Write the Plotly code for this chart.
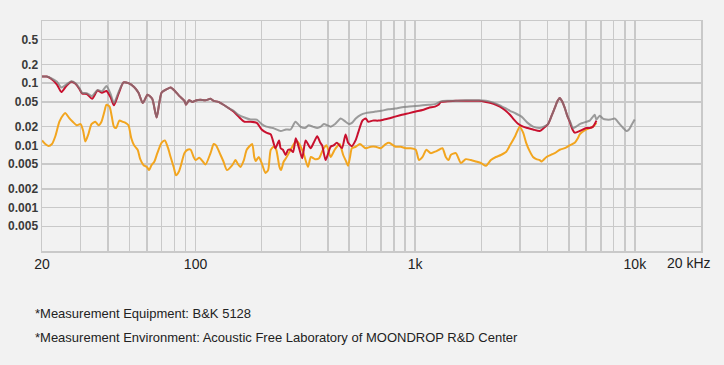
import plotly.graph_objects as go

# ---- data (Hz, ratio) ----
grey_f = [20, 21, 22, 23.4, 24.5, 25.8, 27.2, 28.4, 29.5, 30.5, 32, 33.8, 35.8, 37.5, 39.3, 41, 42.5, 44.5, 47, 49.5,
          52.5, 55, 57.5, 60.5, 63.5, 66.5, 70, 74, 77, 80.5, 84.5, 89, 90.5, 93.5, 97, 101, 105, 111, 117, 121,
          127, 134, 141, 149, 157, 167, 178, 190, 200, 210, 225, 244, 258, 271, 285, 300, 315, 327, 342, 358,
          372, 384, 398, 412, 432, 458, 482, 500, 515, 536, 565, 595, 630, 661, 700, 755, 810, 870, 940, 1006,
          1080, 1150, 1230, 1308, 1400, 1531, 1700, 1950, 2100, 2211, 2330, 2430, 2558, 2700, 2850, 3048, 3250,
          3440, 3690, 3850, 4026, 4180, 4318, 4450, 4550, 4650, 4796, 4920, 5052, 5230, 5400, 5610, 5800, 6018,
          6230, 6450, 6564, 6682, 6916, 7150, 7420, 7750, 8092, 8530, 8850, 9150, 9400, 9640, 9978]
grey_v = [0.128, 0.128, 0.12, 0.105, 0.085, 0.095, 0.107, 0.1, 0.085, 0.07, 0.069, 0.062, 0.078, 0.074, 0.09, 0.068,
          0.048, 0.07, 0.103, 0.1, 0.087, 0.07, 0.048, 0.065, 0.056, 0.028, 0.07, 0.08, 0.085, 0.075, 0.062, 0.052,
          0.045, 0.053, 0.05, 0.053, 0.054, 0.053, 0.056, 0.052, 0.05, 0.045, 0.04, 0.036, 0.031, 0.028, 0.026,
          0.026, 0.022, 0.02, 0.019, 0.017, 0.018, 0.018, 0.024, 0.02, 0.019, 0.021, 0.02, 0.019, 0.02, 0.022,
          0.021, 0.02, 0.022, 0.027, 0.024, 0.022, 0.023, 0.027, 0.031, 0.033, 0.034, 0.035, 0.036, 0.038, 0.039,
          0.041, 0.042, 0.043, 0.044, 0.045, 0.046, 0.051, 0.052, 0.052, 0.053, 0.053, 0.052, 0.05, 0.047, 0.044,
          0.04, 0.036, 0.033, 0.029, 0.023, 0.02, 0.019, 0.02, 0.022, 0.03, 0.04, 0.052, 0.058, 0.052, 0.04, 0.03,
          0.025, 0.019, 0.02, 0.022, 0.023, 0.024, 0.025, 0.029, 0.031, 0.026, 0.03, 0.027, 0.026, 0.026, 0.027,
          0.022, 0.019, 0.017, 0.018, 0.021, 0.026]

red_f = [20, 21, 22, 23.4, 24.5, 25.8, 27.2, 28.4, 29.5, 30.5, 32, 33.8, 35.8, 37.5, 39.3, 41, 42.5, 44.5, 47, 49.5,
         52.5, 55, 57.5, 60.5, 63.5, 66.5, 70, 74, 77, 80.5, 84.5, 89, 90.5, 93.5, 97, 101, 105, 111, 117, 121,
         127, 134, 141, 149, 157, 167, 178, 190, 200, 210, 220, 231, 240, 244, 250, 257, 264, 271, 278, 286, 296,
         306, 317, 334, 345, 358, 370, 377, 391, 412, 425, 440, 464, 482, 495, 515, 535, 550, 575, 595, 611, 640,
         680, 720, 755, 810, 870, 940, 1006, 1080, 1150, 1230, 1276, 1308, 1400, 1531, 1700, 1950, 2100, 2211,
         2330, 2430, 2558, 2700, 2790, 2950, 3098, 3250, 3440, 3690, 3850, 4026, 4180, 4318, 4450, 4550, 4650,
         4796, 4920, 5052, 5200, 5324, 5610, 6018, 6230, 6450, 6564, 6682]
red_v = [0.128, 0.128, 0.118, 0.095, 0.072, 0.09, 0.105, 0.098, 0.082, 0.068, 0.067, 0.056, 0.076, 0.07, 0.075, 0.06,
         0.044, 0.066, 0.103, 0.1, 0.087, 0.07, 0.048, 0.065, 0.056, 0.028, 0.07, 0.08, 0.085, 0.075, 0.062, 0.052,
         0.045, 0.053, 0.05, 0.053, 0.054, 0.053, 0.056, 0.052, 0.05, 0.045, 0.04, 0.035, 0.029, 0.024, 0.024,
         0.023, 0.018, 0.016, 0.015, 0.009, 0.012, 0.009, 0.0085, 0.007, 0.0085, 0.0085, 0.0078, 0.013, 0.009,
         0.0062, 0.012, 0.009, 0.011, 0.014, 0.011, 0.01, 0.0058, 0.0095, 0.01, 0.011, 0.009, 0.015, 0.011, 0.0097,
         0.012, 0.016, 0.025, 0.027, 0.024, 0.025, 0.025, 0.026, 0.027, 0.029, 0.031, 0.033, 0.035, 0.037, 0.04,
         0.042, 0.045, 0.05, 0.051, 0.052, 0.052, 0.052, 0.05, 0.048, 0.045, 0.042, 0.037, 0.031, 0.027, 0.022,
         0.02, 0.019, 0.018, 0.017, 0.019, 0.022, 0.03, 0.04, 0.052, 0.058, 0.052, 0.04, 0.03, 0.024, 0.018, 0.016,
         0.017, 0.019, 0.019, 0.02, 0.022, 0.025]

orange_f = [20, 20.7, 21.4, 22.2, 23, 24, 25, 25.6, 26.5, 27.6, 28.8, 30, 30.8, 31.5, 32.5, 33.6, 35, 36.2, 37.3,
            38.4, 39.3, 40.6, 41.5, 42.5, 43.5, 45, 46.5, 48, 49.5, 51, 52.5, 54.5, 56, 58, 60, 61.5, 63, 65, 67,
            70, 72.5, 75, 77, 79.5, 81.5, 84, 86, 89, 92, 95, 98, 100, 104, 108, 111, 117, 121, 124, 130, 134, 139,
            147, 152, 156, 160, 166, 171, 181, 185, 188, 194, 200, 208, 214, 220, 227, 233, 241, 245, 252, 258,
            271, 283, 291, 301, 310, 325, 335, 350, 365, 380, 395, 412, 430, 440, 453, 470, 485, 495, 505, 515, 536,
            560, 595, 627, 661, 696, 734, 760, 815, 860, 906, 954, 1006, 1040, 1080, 1124, 1177, 1241, 1330, 1378,
            1420, 1452, 1531, 1614, 1700, 1792, 1889, 1991, 2100, 2211, 2330, 2455, 2588, 2700, 2850, 2990, 3100,
            3200, 3324, 3440, 3560, 3690, 3756, 3960, 4200, 4318, 4550, 4796, 5052, 5324, 5500, 5610, 6018, 6230,
            6450, 6682]
orange_v = [0.012, 0.0105, 0.0098, 0.0105, 0.014, 0.024, 0.031, 0.033, 0.028, 0.024, 0.021, 0.022, 0.017, 0.0115,
            0.015, 0.022, 0.024, 0.021, 0.024, 0.034, 0.045, 0.042, 0.03, 0.02, 0.019, 0.025, 0.024, 0.023, 0.021,
            0.013, 0.01, 0.0085, 0.006, 0.0048, 0.0045, 0.004, 0.0048, 0.0055, 0.0075, 0.011, 0.012, 0.009, 0.0065,
            0.0045, 0.0033, 0.0038, 0.0049, 0.0075, 0.0085, 0.0085, 0.0065, 0.0058, 0.0063, 0.0055, 0.0049, 0.0075,
            0.0105, 0.01, 0.007, 0.0055, 0.004, 0.0048, 0.0058, 0.005, 0.0045, 0.0058, 0.0085, 0.0105, 0.0065,
            0.0056, 0.0065, 0.0052, 0.0036, 0.004, 0.0085, 0.0095, 0.0085, 0.0045, 0.004, 0.0055, 0.0062, 0.0085,
            0.011, 0.0115, 0.0095, 0.0075, 0.0045, 0.0065, 0.006, 0.0062, 0.0085, 0.01, 0.0065, 0.0085, 0.0095,
            0.0105, 0.007, 0.0055, 0.0047, 0.0065, 0.009, 0.0095, 0.0105, 0.009, 0.0095, 0.0095, 0.009, 0.0105,
            0.011, 0.0095, 0.0095, 0.009, 0.009, 0.0085, 0.0058, 0.0065, 0.0085, 0.0075, 0.008, 0.009, 0.0065,
            0.0058, 0.007, 0.0075, 0.0052, 0.006, 0.0058, 0.0055, 0.0052, 0.0047, 0.0058, 0.0065, 0.007, 0.0078,
            0.01, 0.014, 0.02, 0.016, 0.011, 0.008, 0.0065, 0.006, 0.0058, 0.0055, 0.0065, 0.0072, 0.0075, 0.0085,
            0.009, 0.01, 0.011, 0.013, 0.015, 0.018, 0.019, 0.02, 0.023]

# ---- axes ticks ----
x_grid = [20, 30, 40, 50, 60, 70, 80, 90, 100, 200, 300, 400, 500, 600, 700, 800, 900,
          1000, 2000, 3000, 4000, 5000, 6000, 7000, 8000, 9000, 10000, 20000]
x_text = ["20", "", "", "", "", "", "", "", "100", "", "", "", "", "", "", "", "",
          "1k", "", "", "", "", "", "", "", "", "10k", ""]
y_ticks = [0.5, 0.2, 0.1, 0.05, 0.02, 0.01, 0.005, 0.002, 0.001, 0.0005]
y_text = ["0.5", "0.2", "0.1", "0.05", "0.02", "0.01", "0.005", "0.002", "0.001", "0.005"]
notes = ["*Measurement Equipment: B&K 5128",
         "*Measurement Environment: Acoustic Free Laboratory of MOONDROP R&D Center"]

BG = "#f2f2f2"
GRID = "#c9c9c9"
FONT = "Liberation Sans, Arial, sans-serif"

fig = go.Figure()
fig.add_trace(go.Scatter(x=orange_f, y=orange_v, mode="lines", hoverinfo="skip",
                         line=dict(color="#f2a51f", width=2, shape="spline", smoothing=0.6)))
fig.add_trace(go.Scatter(x=red_f, y=red_v, mode="lines", hoverinfo="skip",
                         line=dict(color="#c8102e", width=2, shape="spline", smoothing=0.6)))
fig.add_trace(go.Scatter(x=grey_f, y=grey_v, mode="lines", hoverinfo="skip",
                         line=dict(color="rgba(125,125,125,0.75)", width=2, shape="spline", smoothing=0.6)))

fig.update_layout(
    width=724, height=365,
    margin=dict(l=42, r=23, t=21, b=114, autoexpand=False),
    paper_bgcolor=BG, plot_bgcolor=BG,
    showlegend=False,
    font=dict(family=FONT, color="#333333"),
)
fig.update_xaxes(type="log", range=[1.30103, 4.30103], automargin=False,
                 tickmode="array", tickvals=x_grid, ticktext=x_text,
                 showgrid=True, gridcolor=GRID, gridwidth=1.5,
                 showline=True, linecolor=GRID, linewidth=1.5, mirror=True,
                 ticks="", zeroline=False,
                 tickfont=dict(size=14, color="#222222", family=FONT))
fig.update_yaxes(type="log", range=[-3.69897, 0], automargin=False,
                 tickmode="array", tickvals=y_ticks, ticktext=y_text,
                 showgrid=True, gridcolor=GRID, gridwidth=1.5,
                 showline=True, linecolor=GRID, linewidth=1.5, mirror=True,
                 ticks="", zeroline=False,
                 tickfont=dict(size=12, color="#3a3a3a", family=FONT, weight="bold"))

fig.add_annotation(text="20 kHz", xref="paper", yref="paper", x=0.982, y=0, yshift=-12,
                   xanchor="center", yanchor="middle", showarrow=False,
                   font=dict(size=14, color="#222222", family=FONT))
for i, t in enumerate(notes):
    fig.add_annotation(text=t, xref="paper", yref="paper", x=-0.013, y=[-0.272, -0.375][i],
                       xanchor="left", yanchor="middle", showarrow=False,
                       font=dict(size=13, color="#222222", family=FONT))

fig.write_html("out.html", config={"displayModeBar": False, "staticPlot": True},
               post_script="document.body.style.margin='0';")
